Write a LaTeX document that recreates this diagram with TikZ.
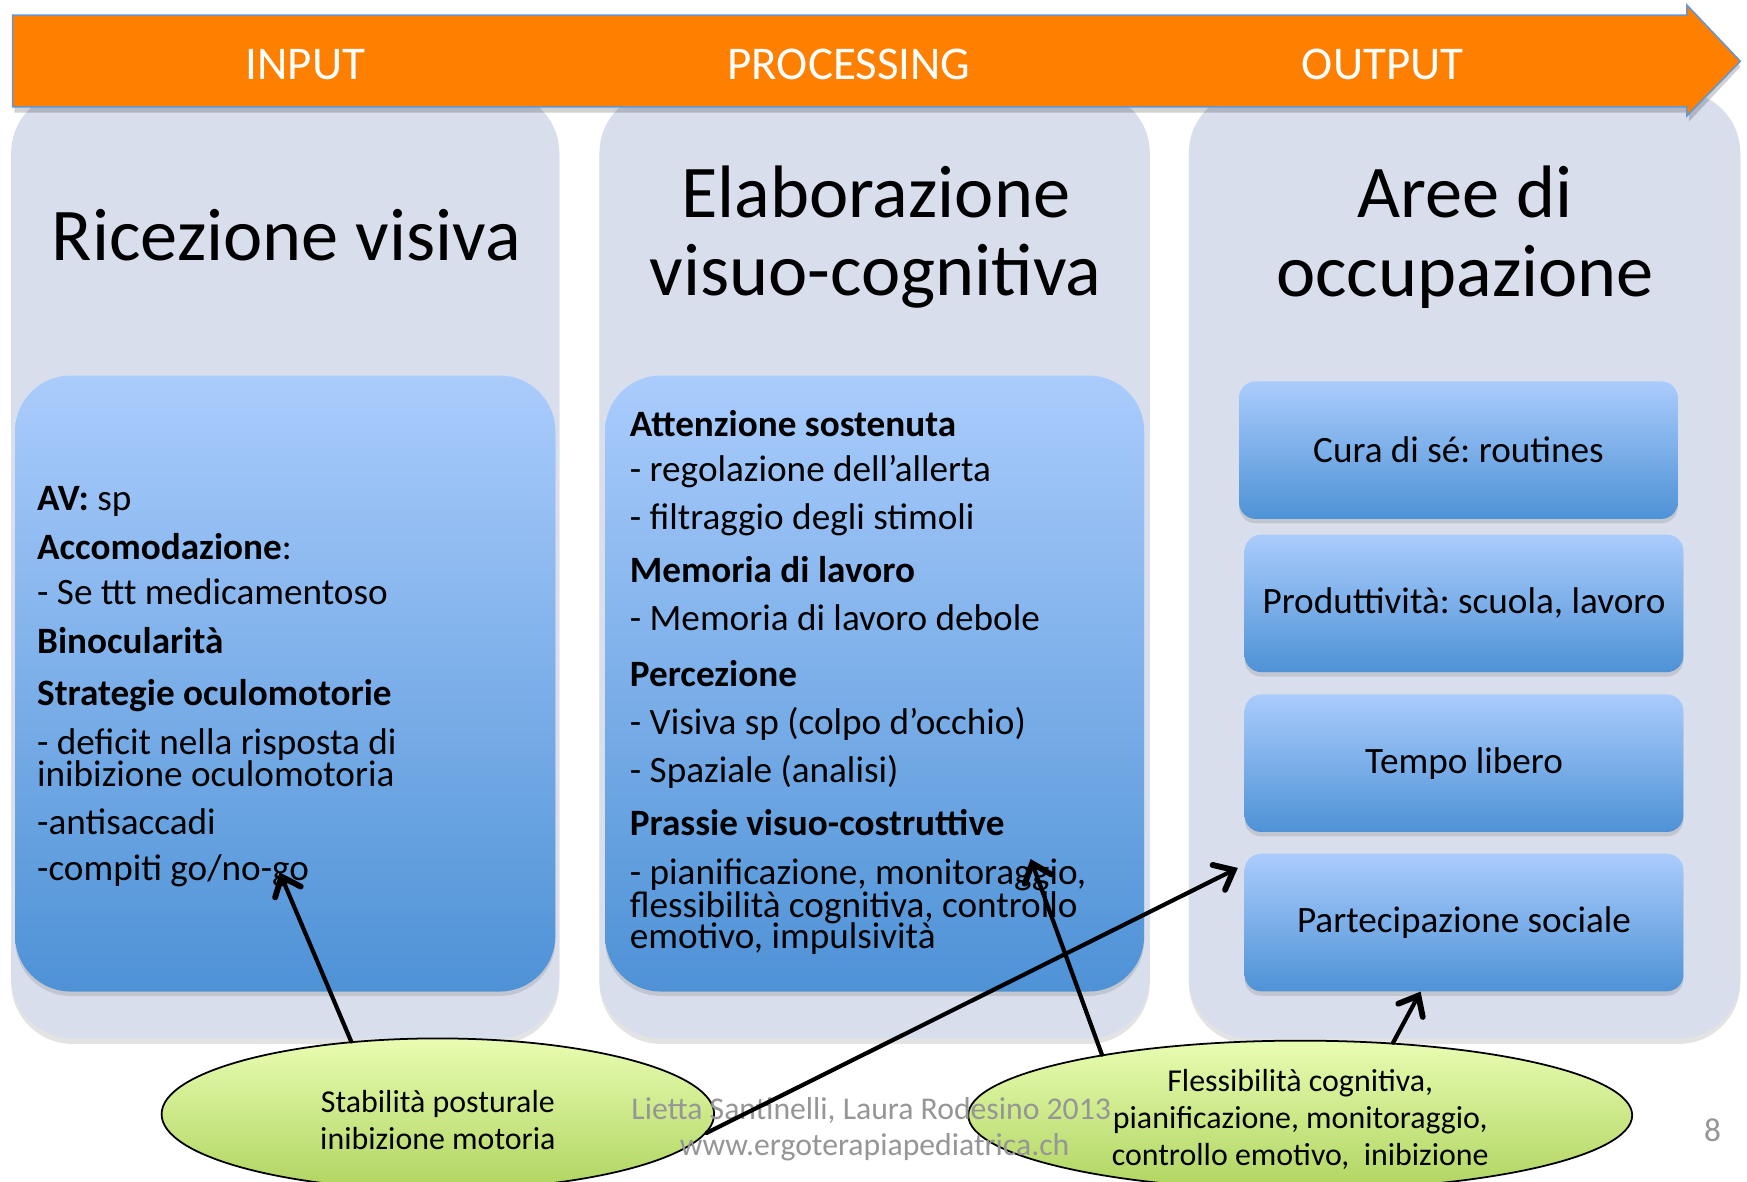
\documentclass[tikz,border=0pt]{standalone}
\usepackage{fontspec}
\setmainfont{Carlito}
\usetikzlibrary{arrows.meta,shapes.geometric,shadows}
\definecolor{orangeA}{RGB}{255,127,0}
\definecolor{arrowline}{RGB}{100,150,210}
\definecolor{panelc}{RGB}{216,222,236}
\definecolor{blueTop}{RGB}{170,204,252}
\definecolor{blueBot}{RGB}{78,146,214}
\definecolor{greenTop}{RGB}{232,253,178}
\definecolor{greenBot}{RGB}{176,212,96}
\definecolor{footgrey}{RGB}{150,150,150}
\frenchspacing
\begin{document}
\begin{tikzpicture}[x=0.02cm,y=-0.02cm,
  panelbox/.style={draw=none, fill=panelc, rounded corners=1.1cm, inner sep=0pt,
    drop shadow={opacity=0.22, shadow xshift=0cm, shadow yshift=-0.1cm}},
  bluebox/.style={draw=none, top color=blueTop, bottom color=blueBot, inner sep=0pt,
    drop shadow={opacity=0.25, shadow xshift=0cm, shadow yshift=-0.08cm}},
  bigblue/.style={bluebox, rounded corners=1cm, minimum width=9.7cm, minimum height=11.06cm},
  smallblue/.style={bluebox, rounded corners=0.3cm, minimum width=7.88cm, minimum height=2.47cm,
    font=\fontsize{19}{22}\selectfont},
  headtxt/.style={text=white, font=\fontsize{24}{28}\selectfont, inner sep=0pt},
  titletxt/.style={align=center, font=\fontsize{38}{40}\selectfont, inner sep=0pt},
  boxtxt/.style={anchor=mid west, inner sep=0pt, font=\fontsize{19}{16.5}\selectfont},
  oval/.style={ellipse, draw=black, line width=0.9pt, top color=greenTop, bottom color=greenBot, inner sep=0pt},
  ovaltxt/.style={align=center, inner sep=0pt, font=\fontsize{16.3}{19}\selectfont},
  foottxt/.style={text=footgrey, inner sep=0pt, font=\fontsize{16.2}{19}\selectfont},
  conn/.style={line width=0.075cm, line cap=round,
    -{Straight Barb[length=0.3cm,width=0.5cm,line width=0.03cm 1,line cap=round]}}
]
\useasboundingbox (0,0) rectangle (1568,1060);
\fill[white] (0,0) rectangle (1568,1060);

% panels
\node[panelbox, minimum width=9.84cm, minimum height=17.0cm] (p1) at (256,507) {};
\node[panelbox, minimum width=9.88cm, minimum height=17.0cm] (p2) at (785,507) {};
\node[panelbox, minimum width=9.90cm, minimum height=17.0cm] (p3) at (1314.5,507) {};

% header arrow
\fill[black, opacity=0.18] (13,19) -- (1516,19) -- (1516,10) -- (1562,60) -- (1516,109) -- (1516,101) -- (13,101) -- cycle;
\filldraw[fill=orangeA, draw=arrowline, line width=0.8pt]
  (11.4,13.5) -- (1514,13.5) -- (1514,4.5) -- (1562,55) -- (1514,104) -- (1514,96) -- (11.4,96) -- cycle;
\node[headtxt] (hin) at (274,58) {INPUT};
\node[headtxt] (hproc) at (762,58) {PROCESSING};
\node[headtxt] (hout) at (1241,58) {OUTPUT};

% titles
\node[titletxt] (t1) at (257,211) {Ricezione visiva};
\node[titletxt] (t2) at (786,213) {Elaborazione\\visuo-cognitiva};
\node[titletxt] (t3) at (1315,213) {Aree di\\occupazione};

% blue boxes
\node[bigblue] (b1) at (256,613.5) {};
\node[bigblue, minimum width=9.68cm] (b2) at (785,613.5) {};

\foreach \yy/\tt [count=\i] in {
  454/{\textbf{AV:} sp},
  498/{\textbf{Accomodazione}:},
  538/{- Se ttt medicamentoso},
  582/{\textbf{Binocularità}},
  629/{\textbf{Strategie oculomotorie}},
  673/{- deficit nella risposta di},
  702/{inibizione oculomotoria},
  745/{-antisaccadi},
  786/{-compiti go/no-go}}
  \node[boxtxt] (a\i) at (33,\yy) {\tt};

\foreach \yy/\tt [count=\i] in {
  388/{\textbf{Attenzione sostenuta}},
  428/{- regolazione dell’allerta},
  471/{- filtraggio degli stimoli},
  519/{\textbf{Memoria di lavoro}},
  562/{- Memoria di lavoro debole},
  612/{\textbf{Percezione}},
  655/{- Visiva sp (colpo d’occhio)},
  698/{- Spaziale (analisi)},
  746/{\textbf{Prassie visuo-costruttive}},
  790/{- pianificazione, monitoraggio,},
  819/{flessibilità cognitiva, controllo},
  847/{emotivo, impulsività}}
  \node[boxtxt] (c\i) at (565,\yy) {\tt};

% output boxes
\node[smallblue] (r1) at (1309,404) {Cura di sé: routines};
\node[smallblue] (r2) at (1314,541.5) {Produttività: scuola, lavoro};
\node[smallblue] (r3) at (1314,685) {Tempo libero};
\node[smallblue] (r4) at (1314,828) {Partecipazione sociale};

% ovals
\node[oval, minimum width=9.92cm, minimum height=2.72cm] (e1) at (393,1000) {};
\node[oval, minimum width=11.92cm, minimum height=2.68cm] (e2) at (1167,1001) {};
\node[ovaltxt] (e1t) at (393,1005) {Stabilità posturale\\inibizione motoria};
\node[ovaltxt] (e2t) at (1167,1005) {Flessibilità cognitiva,\\pianificazione, monitoraggio,\\controllo emotivo,\ \ inibizione};

% footer
\node[foottxt] (f1) at (782,997) {Lietta Santinelli, Laura Rodesino 2013};
\node[foottxt] (f2) at (785,1030) {www.ergoterapiapediatrica.ch};
\node[foottxt, font=\fontsize{17}{20}\selectfont] (pg) at (1537,1014) {8};

% connectors
\coordinate (tip1) at (251,783);
\coordinate (tip2) at (1111,779);
\coordinate (tip3) at (925,771);
\coordinate (tip4) at (1275,890);
\draw[conn] (e1.140) -- (tip1);
\draw[conn] (e1.-4) -- (tip2);
\draw[conn] (e2.163) -- (tip3);
\draw[conn] (e2.38) -- (tip4);
\end{tikzpicture}
\end{document}
